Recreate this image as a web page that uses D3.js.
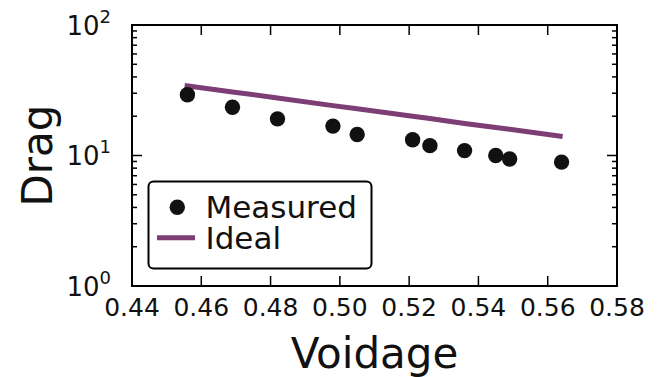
<!DOCTYPE html>
<html>
<head>
<meta charset="utf-8">
<script src="https://cdn.jsdelivr.net/npm/d3@7"></script>
<style>
  body { margin: 0; background: #fff; }
  svg { display: block; font-family: "DejaVu Sans", sans-serif; }
</style>
</head>
<body>
<svg id="chart" width="658" height="377"></svg>
<script>
// measured drag vs voidage
const voidage = [0.456, 0.469, 0.482, 0.498, 0.505, 0.521, 0.526, 0.536, 0.545, 0.549, 0.564];
const measured = [29.2, 23.4, 19.1, 16.8, 14.5, 13.2, 11.9, 10.9, 10.0, 9.4, 8.9];
// ideal model curve
const idealVoidage = [0.4552, 0.469, 0.482, 0.498, 0.505, 0.521, 0.526, 0.536, 0.545, 0.549, 0.5643];
const ideal = [34.4, 30.7, 27.6, 24.1, 22.8, 20.0, 19.2, 17.6, 16.4, 15.9, 14.0];
const xTicks = [0.44, 0.46, 0.48, 0.50, 0.52, 0.54, 0.56, 0.58];
const yTicks = [1, 10, 100];

const purple = '#7d3d75';
const margin = { top: 25, right: 41, bottom: 91, left: 132 };
const width = 658 - margin.left - margin.right;
const height = 377 - margin.top - margin.bottom;

const svg = d3.select('#chart');
const g = svg.append('g')
  .attr('transform', 'translate(' + margin.left + ',' + margin.top + ')');

const x = d3.scaleLinear().domain([0.44, 0.58]).range([0, width]);
const y = d3.scaleLog().domain([1, 100]).range([height, 0]);

// minor ticks on log axis
const minor = [];
[1, 10].forEach(d => { for (let k = 2; k <= 9; k++) minor.push(d * k); });

// ideal line
const line = d3.line()
  .x((d, i) => x(idealVoidage[i]))
  .y(d => y(d));

g.append('path')
  .datum(ideal)
  .attr('fill', 'none')
  .attr('stroke', purple)
  .attr('stroke-width', 5)
  .attr('d', line);

// measured points
g.selectAll('.dot')
  .data(measured)
  .enter().append('circle')
  .attr('class', 'dot')
  .attr('cx', (d, i) => x(voidage[i]))
  .attr('cy', d => y(d))
  .attr('r', 7.7)
  .attr('fill', '#111');

// ticks (inward, all four sides)
const tickG = g.append('g').attr('stroke', '#000').attr('stroke-width', 1.5);
xTicks.slice(1, -1).forEach(t => {
  tickG.append('line').attr('x1', x(t)).attr('x2', x(t)).attr('y1', height).attr('y2', height - 10);
  tickG.append('line').attr('x1', x(t)).attr('x2', x(t)).attr('y1', 0).attr('y2', 10);
});
yTicks.slice(1, -1).forEach(t => {
  tickG.append('line').attr('x1', 0).attr('x2', 10).attr('y1', y(t)).attr('y2', y(t));
  tickG.append('line').attr('x1', width).attr('x2', width - 10).attr('y1', y(t)).attr('y2', y(t));
});
minor.forEach(t => {
  tickG.append('line').attr('x1', 0).attr('x2', 5).attr('y1', y(t)).attr('y2', y(t));
  tickG.append('line').attr('x1', width).attr('x2', width - 5).attr('y1', y(t)).attr('y2', y(t));
});

// frame
g.append('rect')
  .attr('width', width)
  .attr('height', height)
  .attr('fill', 'none')
  .attr('stroke', '#000')
  .attr('stroke-width', 2);

// tick labels
g.selectAll('.xlab')
  .data(xTicks)
  .enter().append('text')
  .attr('class', 'xlab')
  .attr('x', d => x(d))
  .attr('y', height + 30)
  .attr('text-anchor', 'middle')
  .attr('font-size', 25)
  .attr('fill', '#111')
  .text(d => d3.format('.2f')(d));

const ylab = g.selectAll('.ylab')
  .data(yTicks)
  .enter().append('text')
  .attr('class', 'ylab')
  .attr('x', -21)
  .attr('y', d => y(d) + 9.5)
  .attr('text-anchor', 'end')
  .attr('font-size', 26)
  .attr('fill', '#111');
ylab.append('tspan').text('10');
ylab.append('tspan')
  .attr('font-size', 18)
  .attr('dy', -12)
  .text(d => Math.round(Math.log10(d)));

// axis titles
svg.append('text')
  .attr('x', margin.left + width / 2)
  .attr('y', 368)
  .attr('text-anchor', 'middle')
  .attr('font-size', 42)
  .attr('fill', '#111')
  .text('Voidage');

svg.append('text')
  .attr('transform', 'translate(52,' + (margin.top + height / 2) + ') rotate(-90)')
  .attr('text-anchor', 'middle')
  .attr('font-size', 42)
  .attr('fill', '#111')
  .text('Drag');

// legend
const leg = svg.append('g');
leg.append('rect')
  .attr('x', 148.5)
  .attr('y', 181.5)
  .attr('width', 223)
  .attr('height', 87)
  .attr('rx', 5)
  .attr('fill', '#fff')
  .attr('stroke', '#000')
  .attr('stroke-width', 2);
leg.append('circle')
  .attr('cx', 177.3)
  .attr('cy', 207.3)
  .attr('r', 7.7)
  .attr('fill', '#111');
leg.append('line')
  .attr('x1', 157).attr('x2', 195)
  .attr('y1', 237.7).attr('y2', 237.7)
  .attr('stroke', purple)
  .attr('stroke-width', 5);
leg.append('text')
  .attr('x', 205.5).attr('y', 218.3)
  .attr('font-size', 31)
  .attr('fill', '#111')
  .text('Measured');
leg.append('text')
  .attr('x', 205.5).attr('y', 249)
  .attr('font-size', 31)
  .attr('fill', '#111')
  .text('Ideal');
</script>
</body>
</html>
